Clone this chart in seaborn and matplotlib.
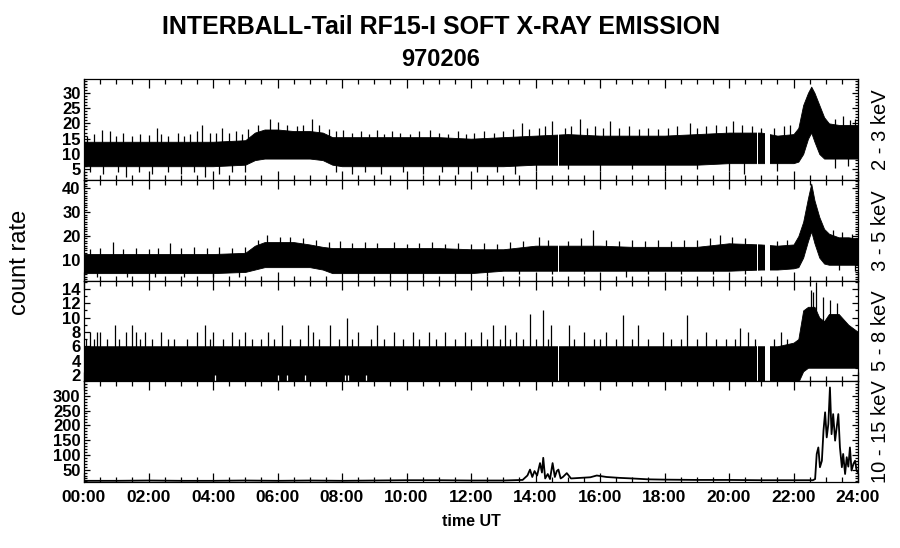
import numpy as np
import pandas as pd
import matplotlib
matplotlib.use("Agg")
import matplotlib.pyplot as plt
from matplotlib.ticker import MultipleLocator, FixedLocator, FuncFormatter
import seaborn as sns

# ---------------- data ----------------
title_line1 = "INTERBALL-Tail RF15-I SOFT X-RAY EMISSION"
title_line2 = "970206"
channels = ["2 - 3 keV", "3 - 5 keV", "5 - 8 keV", "10 - 15 keV"]
xtick_hours = [0, 2, 4, 6, 8, 10, 12, 14, 16, 18, 20, 22, 24]

# dense-noise channels: core band (lo/hi) sampled in time (hours UT)
band_t = [0, 1, 2, 3, 4, 5.0, 5.3, 5.6, 6.0, 6.5, 7.0, 7.4, 7.7, 8, 9, 10, 11, 12, 13,
          14, 15, 16, 17, 18, 19, 20, 21, 21.5, 22.0, 22.15, 22.3, 22.45, 22.55, 22.65,
          22.8, 22.95, 23.1, 23.4, 23.7, 24]
ch1_hi = [14, 14, 14, 14, 14, 14.5, 17, 18, 18, 17.5, 17.5, 17, 15.5, 15.5, 15.5, 15.5, 15.5, 15, 15.5,
          16, 16.5, 16, 16, 16, 16.5, 17, 17, 16, 16.5, 18.5, 26, 30, 32, 30,
          26, 22, 20, 19.5, 19.5, 19.5]
ch1_lo = [6, 6, 6, 6, 6, 6.5, 8, 8.5, 8.5, 8.5, 8.5, 8, 6.5, 6, 6, 6, 6, 6, 6,
          6.5, 6.5, 6.5, 6.5, 6.5, 6.5, 7, 7, 7, 7, 7.5, 10, 15, 17, 14,
          10, 8.5, 8.5, 8.5, 8.5, 8.5]
ch2_hi = [12.5, 12.5, 12.5, 12.5, 12.5, 13, 16, 17.5, 17.5, 17.5, 16.5, 15.5, 15, 15, 15, 15, 15, 14.5, 14.5,
          16, 16, 16, 15.5, 15.5, 15.5, 17, 16.5, 16, 16.5, 20, 26, 36, 42, 35,
          28, 23, 21, 19.5, 19.5, 19]
ch2_lo = [4.5, 4.5, 4.5, 4.5, 4.5, 5, 6, 7, 7, 7, 7, 6, 4.5, 4.5, 4.5, 4.5, 4.5, 4.5, 5.5,
          5.5, 5.5, 5.5, 5.5, 5.5, 5.5, 5.5, 6, 6, 6.5, 7, 11, 18, 22, 17,
          11, 8.5, 8, 8, 8, 8]
ch3_hi = [6, 6, 6, 6, 6, 6, 6, 6, 6, 6, 6, 6, 6, 6, 6, 6, 6, 6, 6,
          6, 6, 6, 6, 6, 6, 6, 6, 6, 6.5, 7, 11, 11.5, 11.5, 11.5,
          10, 9.5, 10.5, 10.5, 9, 8]
ch3_lo = [1, 1, 1, 1, 1, 1, 1, 1, 1, 1, 1, 1, 1, 1, 1, 1, 1, 1, 1,
          1, 1, 1, 1, 1, 1, 1, 1, 1, 1, 1, 2.5, 3, 3, 3,
          3, 3, 3, 3, 3, 3]

# isolated spikes outside the core band (upward and downward)
ch1_spk_t = [0.1, 0.3, 0.55, 0.8, 1.0, 1.2, 1.5, 1.75, 2.0, 2.25, 2.4, 2.6, 2.9, 3.1, 3.3, 3.5,
             3.65, 3.9, 4.1, 4.27, 4.5, 4.7, 4.9, 5.1, 5.4, 5.77, 6.03, 6.3, 6.6, 6.8, 7.06,
             7.3, 7.6, 7.8, 8.04, 8.3, 8.6, 8.85, 9.07, 9.3, 9.55, 9.8, 10.1, 10.4, 10.73,
             11.0, 11.3, 11.6, 11.85, 12.1, 12.4, 12.7, 13.0, 13.3, 13.57, 13.8, 14.1, 14.3,
             14.5, 14.9, 15.1, 15.38, 15.6, 15.85, 16.1, 16.31, 16.6, 16.9, 17.2, 17.5, 17.8,
             18.1, 18.4, 18.79, 19.0, 19.3, 19.6, 19.9, 20.13, 20.4, 20.7, 21.0, 21.4, 21.7,
             21.9, 23.3, 23.55, 23.75, 23.9,
             0.2, 0.6, 1.05, 1.3, 1.7, 2.1, 2.6, 3.0, 3.4, 3.75, 4.2, 4.6, 5.0, 7.8, 8.3, 8.7,
             9.2, 9.9, 10.5, 11.1, 11.6, 12.2, 12.8, 13.35, 14.0, 15.0, 16.0, 17.0, 18.0, 19.0,
             20.0, 20.45, 21.5, 23.3, 23.7]
ch1_spk_v = [16, 16.5, 17.9, 17.4, 16, 16.8, 15.8, 16.5, 16.2, 18.5, 16.5, 16, 17, 16, 16.5, 17.5,
             19.6, 17, 16.8, 18.5, 17, 17.5, 16.5, 18, 19.5, 21.3, 20.4, 19.5, 19, 19.5, 21.3,
             19.5, 18, 17.5, 17.9, 17, 17.5, 16.5, 17.9, 16.5, 17.5, 17, 16.5, 17.5, 17.9,
             17, 16.5, 17.5, 16.5, 17, 17.5, 17, 17.5, 18, 20.2, 18, 18.5, 19,
             20.7, 18.5, 19, 21.3, 18.5, 19, 18.5, 20.7, 18.5, 19, 18, 18.5, 18,
             18.5, 19, 20.2, 18.5, 19, 19.5, 19, 20.7, 19.5, 19, 18.5, 18.5, 19,
             19.5, 21.5, 22.3, 21, 21.5,
             4, 3.5, 4, 2.6, 4, 3.5, 4, 3.5, 4, 2.6, 3.5, 4, 4, 4, 3.5, 4,
             3.5, 4, 3.5, 4, 3.5, 4, 4, 3.6, 4.5, 5, 4.5, 5, 4.5, 5,
             4.5, 3.6, 4.5, 5.5, 6]
ch2_spk_t = [0.2, 0.5, 0.91, 1.2, 1.6, 2.0, 2.3, 2.67, 3.0, 3.4, 3.8, 4.2, 4.6, 5.0, 5.4, 5.66,
             6.08, 6.4, 6.8, 7.2, 7.6, 7.94, 8.3, 8.7, 9.1, 9.6, 10.0, 10.4, 10.8, 11.2, 11.6,
             12.0, 12.4, 12.8, 13.2, 13.6, 14.1, 14.4, 15.0, 15.4, 15.79, 16.2, 16.6, 17.0,
             17.4, 17.8, 18.2, 18.6, 19.0, 19.4, 19.72, 20.1, 20.5, 21.5, 21.8, 23.23, 23.5, 23.8,
             0.4, 1.32, 2.2, 3.1, 4.0, 4.8, 8.5, 9.5, 10.5, 11.5, 12.5, 13.5, 14.5, 15.5, 16.8,
             17.5, 18.5, 19.5, 20.5, 23.4, 23.9]
ch2_spk_v = [14.5, 15, 17.7, 14.5, 15, 14.8, 15, 17, 15, 15.5, 15, 15.5, 15, 15.5, 18.5, 20.5,
             19.8, 19.5, 19, 18.5, 17.5, 18.1, 17, 17.5, 17, 17.7, 16.5, 17, 17.5, 16.5, 17,
             16.5, 17, 16.5, 17.5, 18, 19.8, 18.5, 18, 19, 22.5, 18.5, 18, 18.5,
             18, 18.5, 18, 18.5, 18.5, 19, 20.5, 19.5, 19, 18, 18.5, 22.7, 21.7, 21,
             3, 3, 3, 3, 3, 3, 3, 3, 3, 3, 3.5, 4, 4, 4, 3,
             4, 4, 4, 4, 6, 5.5]
ch3_spk_t = [0.2, 0.4, 0.5, 0.96, 1.3, 1.48, 1.6, 1.9, 2.4, 3.5, 3.75, 4.0, 4.6, 5.0, 5.7,
             6.13, 6.96, 7.1, 7.63, 8.15, 8.5, 9.08, 9.6, 10.2, 10.7, 11.2, 11.8, 12.3,
             12.69, 13.06, 13.4, 13.83, 14.24, 14.49, 15.05, 15.5, 16.2, 16.72, 17.19,
             17.96, 18.69, 19.3, 20.34, 20.6, 21.6, 22.55, 22.62, 22.69, 22.92, 23.13, 23.34,
             0.05, 0.3, 0.7, 1.1, 1.75, 2.1, 2.6, 2.8, 3.2, 3.9, 4.3, 4.8, 5.2, 5.5, 5.9, 6.4,
             6.7, 7.3, 7.9, 8.3, 8.9, 9.3, 9.9, 10.4, 10.9, 11.5, 12.0, 12.5, 12.9, 13.2, 13.6,
             14.0, 14.4, 15.2, 15.8, 16.0, 16.5, 17.0, 17.5, 18.2, 18.5, 19.0, 19.6, 19.9, 20.2,
             20.8, 21.4, 21.8]
ch3_spk_v = [8, 8, 8, 9, 8, 9, 8, 8, 8, 8, 9, 8, 8, 8, 8,
             9, 9, 8, 9, 10, 8, 9, 8, 8, 8, 8, 8, 8,
             9, 9, 8, 10.5, 11, 9, 9, 8, 8, 10.3, 9,
             8, 10.3, 8, 8.5, 8, 8, 13.8, 13.6, 14.9, 12.8, 12.4, 12,
             7, 7, 7, 7, 7, 7, 7, 7, 7, 7, 7, 7, 7, 7, 7, 7,
             7, 7, 7, 7, 7, 7, 7, 7, 7, 7, 7, 7, 7, 7, 7,
             7, 7, 7, 7, 7, 7, 7, 7, 7, 7, 7, 7, 7, 7,
             7, 7, 7]
ch3_hole_t = [4.06, 6.02, 6.28, 6.85, 8.09, 8.19, 8.74]
ch3_hole_v = [2.0, 2.0, 2.0, 2.0, 2.0, 2.0, 2.0]

# data gaps (hours UT)
gap_start = [14.70, 20.86, 21.12]
gap_end = [14.74, 20.90, 21.28]

# 10 - 15 keV channel: line series
ch4_t = [0, 1, 2, 3, 4, 5, 6, 7, 8, 9, 10, 11, 12, 13, 13.6, 13.75, 13.83, 13.9, 13.97, 14.05,
         14.14, 14.2, 14.24, 14.3, 14.38, 14.45, 14.53, 14.6, 14.66, 14.71, 14.78, 14.85, 14.97,
         15.1, 15.4, 15.7, 15.9, 16.2, 16.6, 17, 17.5, 18, 19, 20, 21, 22, 22.6, 22.67, 22.72,
         22.77, 22.82, 22.88, 22.93, 22.98, 23.03, 23.08, 23.13, 23.18, 23.23, 23.29, 23.34,
         23.39, 23.44, 23.5, 23.54, 23.6, 23.65, 23.7, 23.75, 23.8, 23.86, 23.91, 23.96, 24]
ch4_v = [12, 12, 13, 12, 12, 13, 12, 13, 12, 13, 14, 14, 13, 13, 15, 30, 50, 25, 45, 30,
         72, 40, 90, 20, 35, 18, 72, 25, 45, 50, 20, 25, 38,
         20, 22, 24, 30, 25, 22, 20, 17, 16, 15, 15, 14, 14, 14, 18, 103,
         125, 58, 80, 182, 244, 159, 204, 328, 170, 238, 148, 193,
         238, 125, 58, 103, 35, 92, 60, 125, 47, 70, 80, 45, 41]

# axis settings per panel
ylims = [(1.5, 34.5), (1.2, 43.5), (1.15, 15.1), (8, 350)]
ymajor = [[5, 10, 15, 20, 25, 30], [10, 20, 30, 40], [2, 4, 6, 8, 10, 12, 14],
          [50, 100, 150, 200, 250, 300]]
yminor_step = [1, 1, 1, 10]

# ---------------- style ----------------
sns.set_style("ticks")
plt.rcParams["font.family"] = ["Liberation Sans", "DejaVu Sans"]
plt.rcParams["axes.linewidth"] = 0.9
for key in ["text.color", "axes.labelcolor", "xtick.color", "ytick.color", "axes.edgecolor"]:
    plt.rcParams[key] = "black"

W, H = 900, 548
fig = plt.figure(figsize=(W / 100, H / 100), dpi=100)
left_px, right_px = 84, 858
edges_px = [79, 180, 281, 381, 482]
axes = []
for i in range(4):
    ax = fig.add_axes([left_px / W, 1 - edges_px[i + 1] / H, (right_px - left_px) / W,
                       (edges_px[i + 1] - edges_px[i]) / H])
    axes.append(ax)

band_t_arr = np.array(band_t)
bands = [(ch1_lo, ch1_hi), (ch2_lo, ch2_hi), (ch3_lo, ch3_hi)]
spikes = [(ch1_spk_t, ch1_spk_v), (ch2_spk_t, ch2_spk_v), (ch3_spk_t, ch3_spk_v)]

for i in range(3):
    ax = axes[i]
    lo, hi = np.array(bands[i][0]), np.array(bands[i][1])
    ax.fill_between(band_t_arr, lo, hi, color="black", linewidth=0.6, edgecolor="black")
    st, sv = np.array(spikes[i][0]), np.array(spikes[i][1])
    mid = np.interp(st, band_t_arr, (lo + hi) / 2)
    ax.vlines(st, mid, sv, color="black", linewidth=0.9)
    if i == 2:
        ax.vlines(ch3_hole_t, 1, ch3_hole_v, color="white", linewidth=0.9)
    for g0, g1 in zip(gap_start, gap_end):
        ax.axvspan(g0, g1, color="white", linewidth=0, zorder=2)

df4 = pd.DataFrame({"t": ch4_t, "v": ch4_v})
sns.lineplot(data=df4, x="t", y="v", ax=axes[3], color="black", linewidth=1.3)

for i, ax in enumerate(axes):
    ax.set_xlim(0, 24)
    ax.set_ylim(*ylims[i])
    ax.xaxis.set_major_locator(FixedLocator(xtick_hours))
    ax.xaxis.set_minor_locator(MultipleLocator(0.5))
    ax.yaxis.set_major_locator(FixedLocator(ymajor[i]))
    ax.yaxis.set_minor_locator(MultipleLocator(yminor_step[i]))
    ax.tick_params(axis="both", which="both", direction="in", top=True, right=True,
                   width=0.9, colors="black")
    ax.tick_params(axis="x", which="major", length=6.5, pad=6)
    ax.tick_params(axis="x", which="minor", length=3.6)
    ax.tick_params(axis="y", which="major", length=4.3, pad=2.5)
    ax.tick_params(axis="y", which="minor", length=2.2)
    for lab in ax.get_yticklabels():
        lab.set_fontsize(12)
        lab.set_fontweight("bold")
    ax.set_xlabel("")
    ax.set_ylabel("")
    for sp in ax.spines.values():
        sp.set_visible(True)
        sp.set_linewidth(0.9)
        sp.set_color("black")
    if i < 3:
        ax.tick_params(axis="x", labelbottom=False)
    else:
        ax.xaxis.set_major_formatter(FuncFormatter(lambda v, p: "%02d:00" % int(round(v))))
        for lab in ax.get_xticklabels():
            lab.set_fontsize(12.5)
            lab.set_fontweight("bold")
    yc = 1 - (edges_px[i] + edges_px[i + 1]) / 2 / H
    fig.text(880 / W, yc, channels[i], rotation=90, ha="center", va="center", fontsize=14.5)

fig.text(441 / W, 1 - 27 / H, title_line1, ha="center", va="center", fontsize=18, fontweight="bold")
fig.text(441 / W, 1 - 60 / H, title_line2, ha="center", va="center", fontsize=17, fontweight="bold")
fig.text(20 / W, 1 - 262 / H, "count rate", rotation=90, ha="center", va="center", fontsize=17)
fig.text(471 / W, 1 - 522 / H, "time UT", ha="center", va="center", fontsize=11.5, fontweight="bold")

fig.savefig("out.png", dpi=100)
